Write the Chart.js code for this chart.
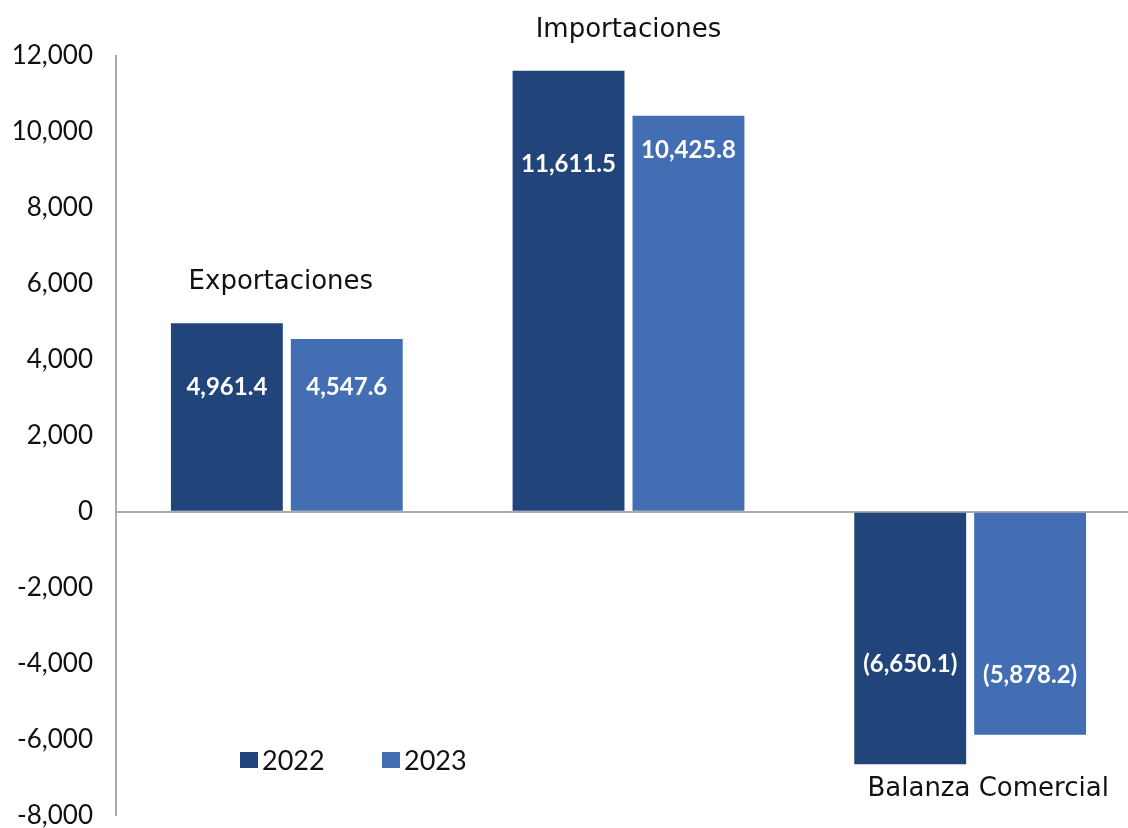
<!DOCTYPE html>
<html>
<head>
<meta charset="utf-8">
<script src="https://cdn.jsdelivr.net/npm/chart.js@4"></script>
<style>
  html, body { margin: 0; padding: 0; background: #fff; overflow: hidden; width: 1128px; height: 828px; }
  canvas { display: block; }
</style>
</head>
<body>
<canvas id="c" width="1160" height="854" style="width:1160px;height:854px"></canvas>
<script>
const categories = ['Exportaciones', 'Importaciones', 'Balanza Comercial'];
const seriesNames = ['2022', '2023'];
const values2022 = [4961.4, 11611.5, -6650.1];
const values2023 = [4547.6, 10425.8, -5878.2];
const yTicks = [-8000, -6000, -4000, -2000, 0, 2000, 4000, 6000, 8000, 10000, 12000];

const FONT = 'Lato, "Open Sans", sans-serif';
const WIDE = '"DejaVu Sans", Verdana, sans-serif';
const colors = ['#21457A', '#436EB3'];

function fmtVal(v) {
  const s = Math.abs(v).toLocaleString('en-US', {minimumFractionDigits: 1, maximumFractionDigits: 1});
  return v < 0 ? '(' + s + ')' : s;
}

const valueLabels = {
  id: 'valueLabels',
  afterDatasetsDraw(chart, args, opts) {
    const ctx = chart.ctx;
    const y = chart.scales.y;
    ctx.save();
    ctx.font = 'bold 24px ' + FONT;
    ctx.fillStyle = '#ffffff';
    ctx.textAlign = 'center';
    ctx.textBaseline = 'middle';
    chart.data.datasets.forEach((ds, di) => {
      const meta = chart.getDatasetMeta(di);
      meta.data.forEach((bar, i) => {
        const anchor = opts.anchors[di][i];
        ctx.fillText(fmtVal(ds.data[i]), bar.x, y.getPixelForValue(anchor));
      });
    });
    ctx.restore();
  }
};

const categoryLabels = {
  id: 'categoryLabels',
  afterDatasetsDraw(chart, args, opts) {
    const ctx = chart.ctx;
    const x = chart.scales.x;
    ctx.save();
    ctx.font = '26px ' + WIDE;
    ctx.fillStyle = '#111111';
    ctx.textAlign = 'center';
    ctx.textBaseline = 'middle';
    chart.data.labels.forEach((lab, i) => {
      let top = Infinity, bottom = -Infinity, neg = false;
      chart.data.datasets.forEach((ds, di) => {
        const bar = chart.getDatasetMeta(di).data[i];
        if (ds.data[i] < 0) { neg = true; bottom = Math.max(bottom, bar.y); }
        else { top = Math.min(top, bar.y); }
      });
      const cx = x.getPixelForValue(i) + opts.dx[i];
      const cy = neg ? bottom + 25 : top - 41;
      ctx.fillText(lab, cx, cy);
    });
    ctx.restore();
  }
};

const customLegend = {
  id: 'customLegend',
  afterDraw(chart, args, opts) {
    const ctx = chart.ctx;
    ctx.save();
    ctx.font = '27px ' + FONT;
    ctx.textBaseline = 'middle';
    ctx.textAlign = 'left';
    chart.data.datasets.forEach((ds, di) => {
      const x0 = opts.x + di * opts.spacing;
      ctx.fillStyle = ds.backgroundColor;
      ctx.fillRect(x0, opts.y - 8, 18, 16);
      ctx.fillStyle = '#111111';
      ctx.fillText(ds.label, x0 + 22, opts.y + 1);
    });
    ctx.restore();
  }
};

new Chart(document.getElementById('c'), {
  type: 'bar',
  data: {
    labels: categories,
    datasets: [
      { label: seriesNames[0], data: values2022, backgroundColor: colors[0] },
      { label: seriesNames[1], data: values2023, backgroundColor: colors[1] }
    ]
  },
  options: {
    responsive: false,
    animation: false,
    categoryPercentage: 0.702,
    barPercentage: 0.933,
    layout: { padding: { top: 56, bottom: 12, left: 0, right: 19 } },
    plugins: {
      legend: { display: false },
      tooltip: { enabled: false },
      valueLabels: { anchors: [[3263, 9158, -4026], [3263, 9526, -4316]] },
      categoryLabels: { dx: [-6, 0, 18] },
      customLegend: { x: 240, y: 760, spacing: 142 }
    },
    scales: {
      x: {
        display: false,
        grid: { display: false }
      },
      y: {
        min: -8000,
        max: 12000,
        afterFit(s) { s.width = 116; },
        afterBuildTicks(s) { s.ticks = yTicks.map(v => ({ value: v })); },
        ticks: {
          padding: 23,
          color: '#111111',
          font: { family: FONT, size: 26 },
          callback: v => v.toLocaleString('en-US')
        },
        grid: {
          drawTicks: false,
          lineWidth: 2,
          color: c => (c.tick && c.tick.value === 0) ? '#ababab' : 'rgba(0,0,0,0)'
        },
        border: { display: true, color: '#ababab', width: 2 }
      }
    }
  },
  plugins: [valueLabels, categoryLabels, customLegend]
});
</script>
</body>
</html>
